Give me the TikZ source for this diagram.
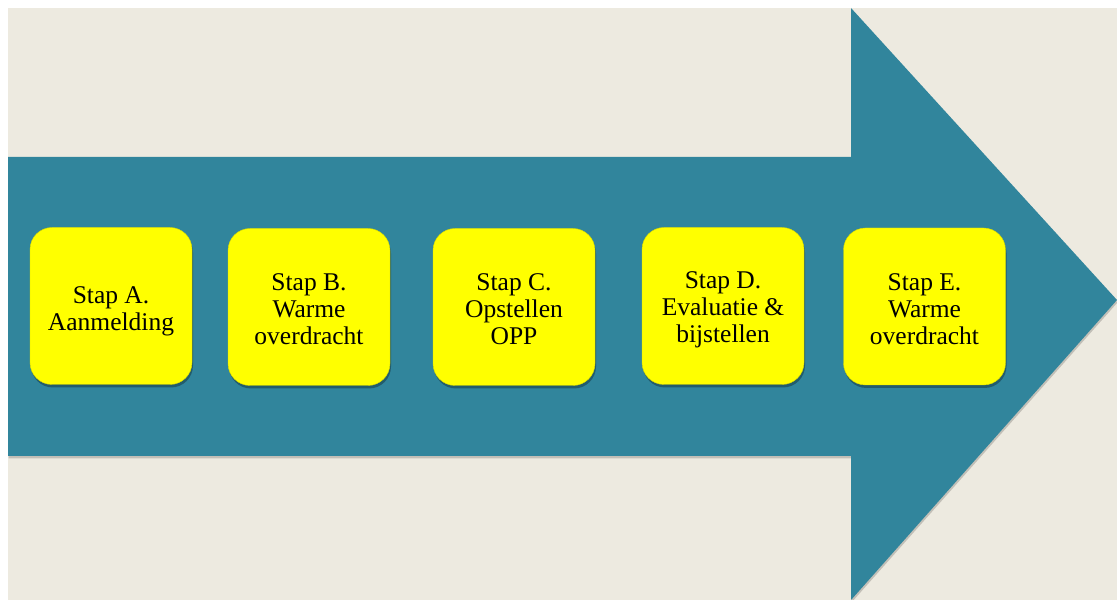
\documentclass[tikz,border=0pt]{standalone}
\usepackage{fontspec}
\setmainfont{Liberation Serif}
\usetikzlibrary{shadows}
\definecolor{bgbeige}{HTML}{EDEAE0}
\definecolor{teal}{HTML}{31859C}
\definecolor{boxyellow}{HTML}{FFFF00}
\tikzset{
  stepbox/.style={
    rectangle, rounded corners=22pt, fill=boxyellow, draw=boxyellow!85!black, line width=0.4pt,
    minimum width=162pt, minimum height=157pt, inner sep=0pt,
    drop shadow={shadow xshift=1pt, shadow yshift=-3pt, opacity=0.3, fill=black}
  },
  steptext/.style={align=center, font=\fontsize{25.5}{27}\selectfont, text=black, inner sep=0pt},
  bigarrow/.style={fill=teal, draw=none,
    drop shadow={shadow xshift=0.5pt, shadow yshift=-2.5pt, opacity=0.18, fill=black}}
}
\begin{document}
\begin{tikzpicture}[x=1pt,y=1pt]
  \useasboundingbox (0,0) rectangle (1117,600);
  \fill[white] (0,0) rectangle (1117,600);
  \fill[bgbeige] (8,0) rectangle (1117,592);
  \path[bigarrow] (8,443) -- (851,443) -- (851,592) -- (1117,300) -- (851,0) -- (851,144) -- (8,144) -- cycle;
  \node[stepbox, label={[steptext, yshift=-5pt]center:{Stap A.\\Aanmelding}}] (a) at (111,294) {};
  \node[stepbox, label={[steptext, yshift=-2.5pt]center:{Stap B.\\Warme\\overdracht}}] (b) at (309,293) {};
  \node[stepbox, label={[steptext, yshift=-2pt]center:{Stap C.\\Opstellen\\OPP}}] (c) at (514,293) {};
  \node[stepbox, label={[steptext, yshift=-3.5pt]center:{Stap D.\\Evaluatie \&\\bijstellen}}] (d) at (723,294) {};
  \node[stepbox, label={[steptext, yshift=-2.5pt]center:{Stap E.\\Warme\\overdracht}}] (e) at (924.5,293.5) {};
\end{tikzpicture}
\end{document}
